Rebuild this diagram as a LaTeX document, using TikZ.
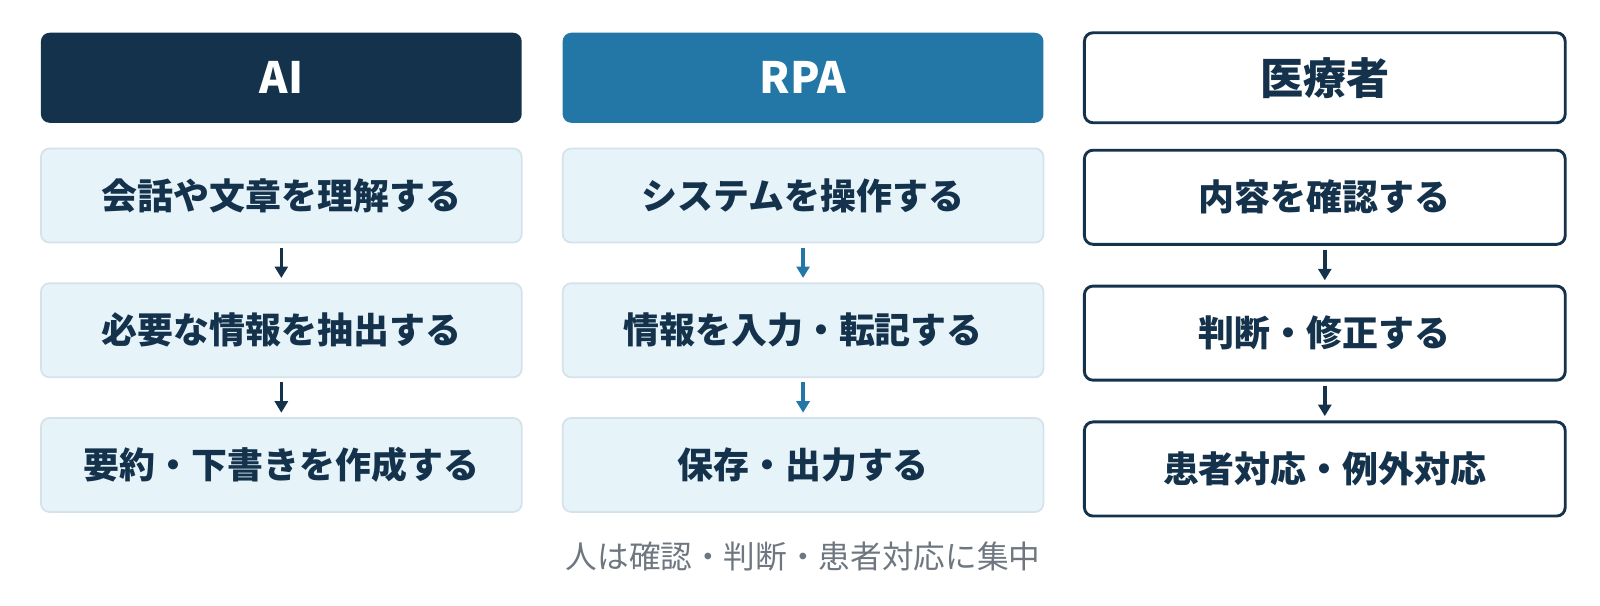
\documentclass[tikz,border=0pt]{standalone}
\usepackage{fontspec}
\setmainfont{Noto Sans CJK JP}
\usetikzlibrary{positioning,arrows.meta}
\definecolor{navy}{HTML}{14324B}
\definecolor{rpablue}{HTML}{2277A6}
\definecolor{lightfill}{HTML}{E6F4FA}
\definecolor{lightline}{HTML}{D5E2EA}
\definecolor{notegray}{HTML}{6E7780}
\tikzset{
  box/.style={rounded corners=6pt, minimum width=11.75cm, minimum height=2.3cm,
    font=\bfseries\fontsize{25}{29}\selectfont, text=navy},
  head/.style={box, minimum height=2.2cm, font=\bfseries\fontsize{30}{34}\selectfont},
  task/.style={box, fill=lightfill, draw=lightline, line width=1.2pt},
  htask/.style={box, fill=white, draw=navy, line width=2pt},
  flow/.style={-{Triangle[width=9pt,length=8pt]}, line width=2.4pt, shorten <=3pt, shorten >=3pt}
}
\begin{document}
\begin{tikzpicture}
  \useasboundingbox (0,0) rectangle (39.1,-14.8);
  % headers
  \node[head, fill=navy, text=white] (ai) at (6.875,-1.9) {AI};
  \node[head, fill=rpablue, text=white] (rpa) at (19.625,-1.9) {RPA};
  \node[head, fill=white, draw=navy, line width=2pt] (med) at (32.375,-1.9) {医療者};
  % AI column
  \node[task, below=0.6cm of ai] (ai1) {会話や文章を理解する};
  \node[task, below=0.95cm of ai1] (ai2) {必要な情報を抽出する};
  \node[task, below=0.95cm of ai2] (ai3) {要約・下書きを作成する};
  \draw[flow, navy] (ai1) -- (ai2);
  \draw[flow, navy] (ai2) -- (ai3);
  % RPA column
  \node[task, below=0.6cm of rpa] (rpa1) {システムを操作する};
  \node[task, below=0.95cm of rpa1] (rpa2) {情報を入力・転記する};
  \node[task, below=0.95cm of rpa2] (rpa3) {保存・出力する};
  \draw[flow, rpablue] (rpa1) -- (rpa2);
  \draw[flow, rpablue] (rpa2) -- (rpa3);
  % medical staff column
  \node[htask, below=0.6cm of med] (med1) {内容を確認する};
  \node[htask, below=0.95cm of med1] (med2) {判断・修正する};
  \node[htask, below=0.95cm of med2] (med3) {患者対応・例外対応};
  \draw[flow, navy] (med1) -- (med2);
  \draw[flow, navy] (med2) -- (med3);
  % note
  \node[text=notegray, font=\fontsize{22}{26}\selectfont] (note) at (19.625,-13.6) {人は確認・判断・患者対応に集中};
\end{tikzpicture}
\end{document}
